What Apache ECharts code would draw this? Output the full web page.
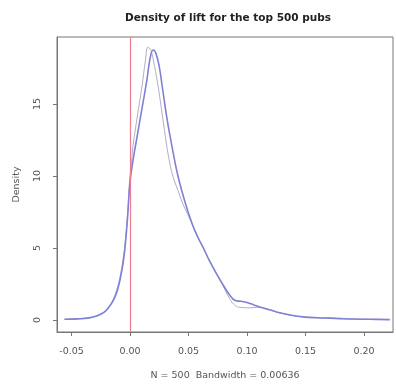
<!DOCTYPE html>
<html>
<head>
<meta charset="utf-8">
<script src="https://cdn.jsdelivr.net/npm/echarts@6/dist/echarts.min.js"></script>
<style>
html,body{margin:0;padding:0;background:#fff;}
#c{width:396px;height:386px;}
</style>
</head>
<body>
<div id="c"></div>
<script>
// Purple (thicker) density curve
const purpleX = [-0.056, -0.045, -0.035, -0.028, -0.022, -0.018, -0.014, -0.011, -0.0085, -0.006, -0.0043, -0.002, 0, 0.003, 0.006, 0.0094, 0.012, 0.0145, 0.017, 0.0197, 0.022, 0.025, 0.0274, 0.0316, 0.036, 0.041, 0.047, 0.053, 0.058, 0.063, 0.068, 0.074, 0.0795, 0.085, 0.09, 0.095, 0.1, 0.106, 0.111, 0.12, 0.128, 0.138, 0.148, 0.16, 0.171, 0.18, 0.19, 0.205, 0.222];
const purpleY = [0.05, 0.08, 0.15, 0.3, 0.55, 0.9, 1.4, 2.0, 2.8, 3.9, 5.0, 7.2, 9.6, 11.3, 12.7, 14.3, 15.5, 16.7, 18.1, 18.75, 18.55, 17.6, 16.3, 14.0, 12.0, 10.0, 8.2, 6.7, 5.75, 4.95, 4.1, 3.2, 2.45, 1.75, 1.35, 1.3, 1.22, 1.05, 0.9, 0.7, 0.5, 0.33, 0.22, 0.16, 0.13, 0.1, 0.07, 0.05, 0.03];
// Thin grey density curve
const thinX = [-0.056, -0.045, -0.035, -0.028, -0.022, -0.018, -0.014, -0.011, -0.0085, -0.006, -0.004, -0.002, 0, 0.0013, 0.0026, 0.006, 0.0103, 0.013, 0.0154, 0.018, 0.021, 0.024, 0.028, 0.031, 0.034, 0.037, 0.041, 0.045, 0.049, 0.053, 0.058, 0.063, 0.068, 0.074, 0.0795, 0.085, 0.09, 0.094, 0.1026, 0.108, 0.114, 0.12, 0.128, 0.138, 0.148, 0.16, 0.171, 0.18, 0.19, 0.205, 0.222];
const thinY = [0.05, 0.08, 0.15, 0.3, 0.55, 0.9, 1.5, 2.2, 3.0, 4.2, 5.5, 7.5, 10.0, 11.0, 12.1, 14.0, 16.25, 17.9, 18.96, 18.7, 17.6, 16.25, 14.0, 12.3, 10.9, 9.9, 9.0, 8.1, 7.4, 6.7, 5.75, 4.95, 4.1, 3.2, 2.4, 1.5, 1.0, 0.88, 0.85, 0.88, 0.85, 0.7, 0.5, 0.33, 0.22, 0.16, 0.13, 0.1, 0.07, 0.05, 0.03];
// Reference line and ticks
const refLineX = 0;
const xTicks = [-0.05, 0.00, 0.05, 0.10, 0.15, 0.20];
const yTicks = [0, 5, 10, 15];
const titleText = 'Density of lift for the top 500 pubs';
const xLabelText = 'N = 500  Bandwidth = 0.00636';
const yLabelText = 'Density';

const zip = (xs, ys) => xs.map((x, i) => [x, ys[i]]);
const chart = echarts.init(document.getElementById('c'), null, {renderer: 'canvas'});
const FONT = '"DejaVu Sans", sans-serif';
chart.setOption({
  animation: false,
  backgroundColor: '#fff',
  title: {
    text: titleText,
    left: 223, top: 8, textAlign: 'center',
    textStyle: {fontFamily: FONT, fontSize: 10.5, fontWeight: 'bold', color: '#222'}
  },
  grid: {left: 57, right: 3, top: 37, bottom: 54, show: true, borderColor: '#777', borderWidth: 1,
    backgroundColor: 'transparent', containLabel: false, outerBoundsMode: 'none'},
  xAxis: {
    type: 'value', min: -0.0624, max: 0.2248,
    name: xLabelText, nameLocation: 'middle', nameGap: 39,
    nameTextStyle: {fontFamily: FONT, fontSize: 9.5, color: '#555'},
    axisLine: {show: true, onZero: false, lineStyle: {color: '#777'}},
    axisTick: {show: true, length: 4, customValues: xTicks, lineStyle: {color: '#777'}},
    axisLabel: {customValues: xTicks, margin: 15, fontFamily: FONT, fontSize: 9.5, color: '#555',
      formatter: v => v.toFixed(2)},
    splitLine: {show: false}
  },
  yAxis: {
    type: 'value', min: -0.83, max: 19.65,
    name: yLabelText, nameLocation: 'middle', nameGap: 35,
    nameTextStyle: {fontFamily: FONT, fontSize: 9.5, color: '#555'},
    axisLine: {show: true, onZero: false, lineStyle: {color: '#777'}},
    axisTick: {show: true, length: 4, customValues: yTicks, lineStyle: {color: '#777'}},
    axisLabel: {customValues: yTicks, rotate: 90, margin: 14, fontFamily: FONT, fontSize: 9.5, color: '#555'},
    splitLine: {show: false}
  },
  series: [
    {
      type: 'line', data: zip(thinX, thinY), smooth: 0.4, showSymbol: false,
      lineStyle: {color: '#b4acc4', width: 1}, z: 2
    },
    {
      type: 'line', data: zip(purpleX, purpleY), smooth: 0.4, showSymbol: false,
      lineStyle: {color: '#8080d4', width: 1.6}, z: 3,
      markLine: {
        symbol: 'none', silent: true, label: {show: false},
        lineStyle: {color: '#f07c94', width: 1.2, type: 'solid'},
        data: [{xAxis: refLineX}]
      }
    }
  ]
});
</script>
</body>
</html>
